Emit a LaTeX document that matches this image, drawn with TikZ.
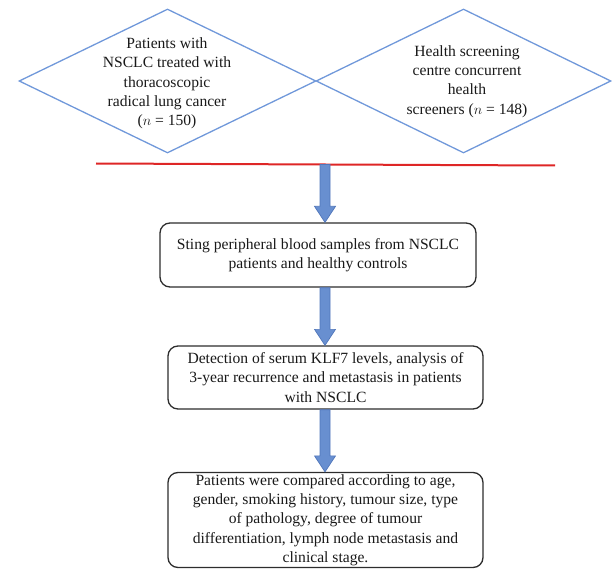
\documentclass[tikz,border=0pt]{standalone}
\usepackage{fontspec}
\setmainfont{Liberation Serif}
\usetikzlibrary{shapes.geometric,calc}
\definecolor{dblue}{RGB}{112,152,218}
\definecolor{afill}{RGB}{104,143,208}
\definecolor{aedge}{RGB}{80,118,186}
\definecolor{rline}{RGB}{222,38,38}
\definecolor{boxline}{RGB}{45,45,45}
\newcommand\blockarrow[2]{%
  \filldraw[fill=afill, draw=aedge, line width=0.7pt, line join=miter]
    let \p1=(#1), \p2=(#2) in
    ({\x1-5pt},\y1) -- ({\x1-5pt},{\y2+16pt}) -- ({\x1-10.5pt},{\y2+16pt}) --
    (\x1,\y2) -- ({\x1+10.5pt},{\y2+16pt}) -- ({\x1+5pt},{\y2+16pt}) --
    ({\x1+5pt},\y1) -- cycle;}
\begin{document}
\begin{tikzpicture}[x=1pt,y=-1pt,
  txt/.style={font=\fontsize{15.6}{19.3}\selectfont, align=center, inner sep=0pt, text=black!90},
  dshape/.style={diamond, draw=dblue, line width=1.3pt, inner sep=0pt},
  boxstyle/.style={draw=boxline, line width=1.3pt, rounded corners=10pt, inner sep=0pt, txt}]
\useasboundingbox (0,0) rectangle (612,569);
% diamonds
\node[dshape, minimum width=297pt, minimum height=144pt] (d1) at (167.5,81) {};
\node[dshape, minimum width=295pt, minimum height=144pt] (d2) at (463.5,81) {};
\node[txt] (t1) at (167,83.5) {Patients with\\NSCLC treated with\\thoracoscopic\\radical lung cancer\\($n$ = 150)};
\node[txt] (t2) at (467,81.5) {Health screening\\centre concurrent\\health\\screeners ($n$ = 148)};
% red line
\coordinate (rl) at (96,163.5);
\coordinate (rr) at (555,165.5);
\draw[rline, line width=2pt] (rl) -- (rr);
\coordinate (r) at (325,164.5);
\coordinate (ax) at (325,0);
% boxes
\node[boxstyle, minimum width=316pt, minimum height=64pt] (b1) at (318,255)
  {Sting peripheral blood samples from NSCLC\\patients and healthy controls};
\node[boxstyle, minimum width=315pt, minimum height=63pt] (b2) at (325.5,377.5)
  {Detection of serum KLF7 levels, analysis of\\3-year recurrence and metastasis in patients\\with NSCLC};
\node[boxstyle, minimum width=315pt, minimum height=95pt] (b3) at (325.5,520)
  {Patients were compared according to age,\\gender, smoking history, tumour size, type\\of pathology, degree of tumour\\differentiation, lymph node metastasis and\\clinical stage.};
% arrows
\blockarrow{r}{ax |- b1.north}
\blockarrow{ax |- b1.south}{ax |- b2.north}
\blockarrow{ax |- b2.south}{ax |- b3.north}
\end{tikzpicture}
\end{document}
